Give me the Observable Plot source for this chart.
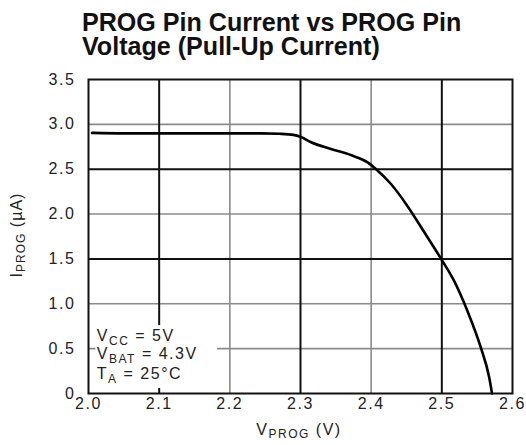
<!DOCTYPE html>
<html>
<head>
<meta charset="utf-8">
<script src="https://cdn.jsdelivr.net/npm/d3@7"></script>
<script src="https://cdn.jsdelivr.net/npm/@observablehq/plot@0.6"></script>
<style>
  html, body { margin: 0; padding: 0; background: #fff; }
  #wrap { position: relative; width: 526px; height: 445px; overflow: hidden; }
  .title { position: absolute; left: 82px; font-family: "Liberation Sans", Arial, sans-serif; font-weight: bold; font-size: 26px; line-height: 22px; height: 22px; color: #111; white-space: nowrap; transform: scaleX(0.965); transform-origin: left center; }
  #t1 { top: 11px; }
  #t2 { top: 34.5px; }
  #chart { position: absolute; left: 0; top: 62px; }
</style>
</head>
<body>
<div id="wrap">
  <div class="title" id="t1">PROG Pin Current vs PROG Pin</div>
  <div class="title" id="t2">Voltage (Pull-Up Current)</div>
  <div id="chart"></div>
</div>
<script>
// Data
const vprog = [2.005, 2.05, 2.10, 2.15, 2.20, 2.244, 2.27, 2.29, 2.30, 2.315, 2.343, 2.371, 2.395, 2.407, 2.428, 2.451, 2.475, 2.499, 2.517, 2.536, 2.555, 2.567, 2.571];
const iprog = [2.905, 2.90, 2.90, 2.90, 2.90, 2.90, 2.895, 2.883, 2.862, 2.80, 2.725, 2.658, 2.576, 2.50, 2.335, 2.094, 1.80, 1.50, 1.26, 0.924, 0.516, 0.18, 0.0];

const xTicks = [2.0, 2.1, 2.2, 2.3, 2.4, 2.5, 2.6];
const yTicks = [0, 0.5, 1.0, 1.5, 2.0, 2.5, 3.0, 3.5];
const xGridDark = [2.1, 2.3, 2.5];
const xGridLight = [2.2, 2.4];
const yGridDark = [1.5, 2.5];
const yGridLight = [0.5, 1.0, 2.0, 3.0];

// Conditions box (data-space extent) and its text lines
const boxX = [2.0106, 2.1827];
const boxY = [0.0557, 0.757];
const condMain = ["V", "V", "T"];
const condSub = ["CC", "BAT", "A"];
const condRest = [" = 5V", " = 4.3V", " = 25°C"];
const condY = [0.58, 0.375, 0.155];
const condX = 2.0125;

const curve = vprog.map((v, i) => ({v, i: iprog[i]}));

const plot = Plot.plot({
  width: 526,
  height: 383,
  marginTop: 17,
  marginBottom: 52,
  marginLeft: 88,
  marginRight: 14,
  style: {fontFamily: "'Liberation Sans', Arial, sans-serif", fontSize: "16px", color: "#222", background: "#fff", letterSpacing: "1.6px"},
  x: {domain: [2.0, 2.6], ticks: xTicks, tickFormat: d => d.toFixed(1), tickSize: 0, tickPadding: 4, label: null},
  y: {domain: [0, 3.5], ticks: yTicks, tickFormat: d => d === 0 ? "0" : d.toFixed(1), tickSize: 0, tickPadding: 13, label: null},
  marks: [
    Plot.ruleX(xGridLight, {stroke: "#8a8a8a", strokeWidth: 1.6}),
    Plot.ruleY(yGridLight, {stroke: "#8a8a8a", strokeWidth: 1.6}),
    Plot.ruleX(xGridDark, {stroke: "#111", strokeWidth: 2}),
    Plot.ruleY(yGridDark, {stroke: "#111", strokeWidth: 2}),
    Plot.rect([{x1: boxX[0], x2: boxX[1], y1: boxY[0], y2: boxY[1]}], {x1: "x1", x2: "x2", y1: "y1", y2: "y2", fill: "#fff"}),
    Plot.line(curve, {x: "v", y: "i", stroke: "#000", strokeWidth: 2.6, curve: "monotone-x"}),
    Plot.frame({stroke: "#111", strokeWidth: 2})
  ]
});

document.getElementById("chart").appendChild(plot);

const svg = d3.select(plot);
const sx = plot.scale("x");
const sy = plot.scale("y");
const font = "'Liberation Sans', Arial, sans-serif";

// Conditions text with subscripts
condMain.forEach((m, k) => {
  const t = svg.append("text")
    .attr("x", sx.apply(condX))
    .attr("y", sy.apply(condY[k]))
    .attr("text-anchor", "start")
    .attr("font-family", font)
    .attr("font-size", 16)
    .attr("letter-spacing", "1.5px")
    .attr("fill", "#222");
  t.append("tspan").text(m);
  t.append("tspan").attr("font-size", 12).attr("dy", 4).text(condSub[k]);
  t.append("tspan").attr("dy", -4).text(condRest[k]);
});

// X axis label V_PROG (V)
const xl = svg.append("text")
  .attr("x", 299)
  .attr("y", 373)
  .attr("text-anchor", "middle")
  .attr("font-family", font)
  .attr("font-size", 16)
  .attr("letter-spacing", "1.5px")
  .attr("fill", "#222");
xl.append("tspan").text("V");
xl.append("tspan").attr("font-size", 12).attr("dy", 3).text("PROG");
xl.append("tspan").attr("dy", -3).text(" (V)");

// Y axis label I_PROG (µA)
const yl = svg.append("text")
  .attr("transform", "translate(22,173) rotate(-90)")
  .attr("text-anchor", "middle")
  .attr("font-family", font)
  .attr("font-size", 16)
  .attr("letter-spacing", "1px")
  .attr("fill", "#222");
yl.append("tspan").text("I");
yl.append("tspan").attr("font-size", 12).attr("dy", 3).text("PROG");
yl.append("tspan").attr("dy", -3).text(" (µA)");
</script>
</body>
</html>
